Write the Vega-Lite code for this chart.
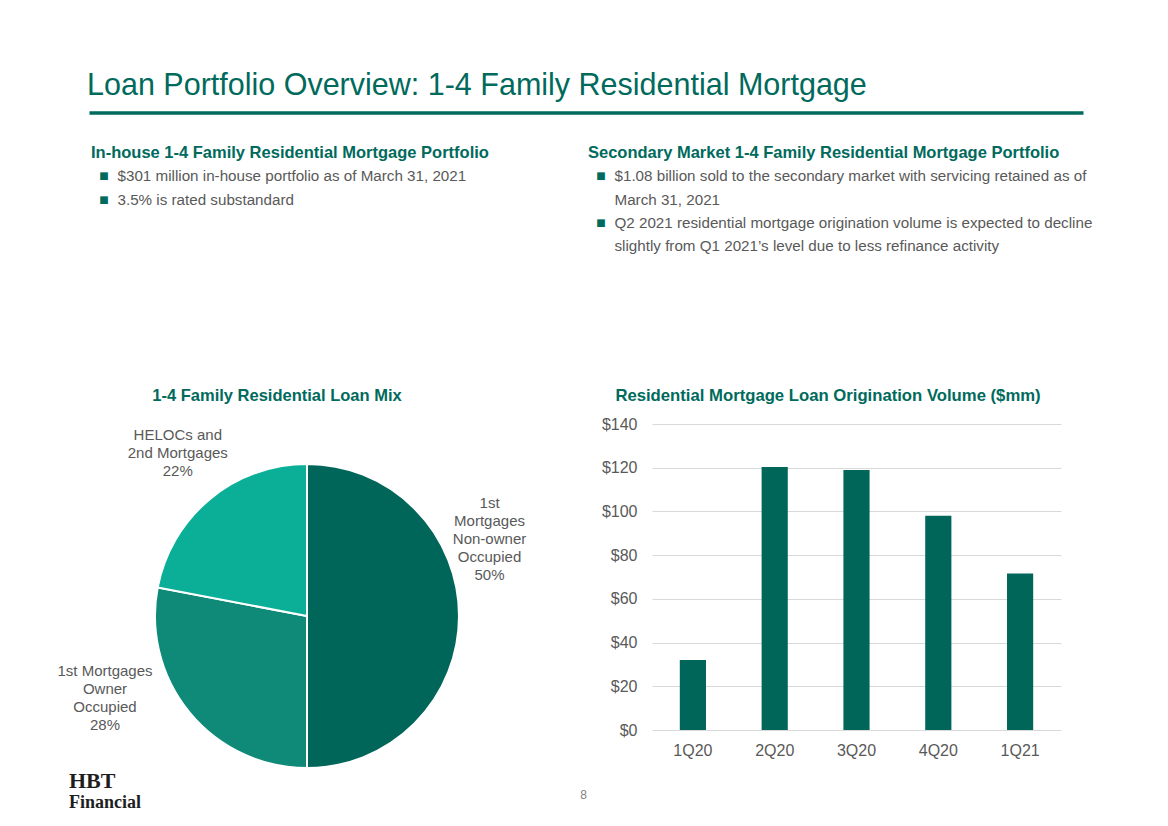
{
  "$schema": "https://vega.github.io/schema/vega-lite/v6.json",
  "background": "#ffffff",
  "padding": {"left": 0, "top": 71, "right": 0, "bottom": 0},
  "title": {
    "text": "Loan Portfolio Overview: 1-4 Family Residential Mortgage",
    "anchor": "start",
    "frame": "group",
    "dx": 87,
    "offset": -19,
    "baseline": "bottom",
    "fontSize": 30.5,
    "fontWeight": "normal",
    "color": "#006A5C",
    "font": "Liberation Sans"
  },
  "bounds": "flush",
  "spacing": 178,
  "vconcat": [
    {
      "width": 1168,
      "height": 93,
      "data": {
        "values": [
          {"col": "left", "line": 0, "kind": "heading", "first": false, "text": "In-house 1-4 Family Residential Mortgage Portfolio"},
          {"col": "left", "line": 1, "kind": "bullet", "first": true, "text": "$301 million in-house portfolio as of March 31, 2021"},
          {"col": "left", "line": 2, "kind": "bullet", "first": true, "text": "3.5% is rated substandard"},
          {"col": "right", "line": 0, "kind": "heading", "first": false, "text": "Secondary Market 1-4 Family Residential Mortgage Portfolio"},
          {"col": "right", "line": 1, "kind": "bullet", "first": true, "text": "$1.08 billion sold to the secondary market with servicing retained as of"},
          {"col": "right", "line": 2, "kind": "bullet", "first": false, "text": "March 31, 2021"},
          {"col": "right", "line": 3, "kind": "bullet", "first": true, "text": "Q2 2021 residential mortgage origination volume is expected to decline"},
          {"col": "right", "line": 4, "kind": "bullet", "first": false, "text": "slightly from Q1 2021\u2019s level due to less refinance activity"}
        ]
      },
      "encoding": {
        "x": {
          "field": "col",
          "type": "nominal",
          "bandPosition": 0,
          "scale": {"type": "band", "domain": ["left", "right"], "range": [89, 1083], "paddingInner": 0, "paddingOuter": 0},
          "axis": {
            "orient": "top",
            "offset": 40.5,
            "minExtent": 0,
            "maxExtent": 0,
            "domain": true,
            "domainColor": "#006A5C",
            "domainWidth": 3.5,
            "domainCap": "butt",
            "labels": false,
            "ticks": false,
            "grid": false,
            "title": null
          }
        },
        "y": {
          "field": "line",
          "type": "ordinal",
          "scale": {"type": "point", "padding": 0},
          "axis": null
        }
      },
      "layer": [
        {
          "transform": [{"filter": "datum.kind === 'heading'"}],
          "mark": {"type": "text", "align": "left", "baseline": "middle", "dx": 2, "fontSize": 16.5, "fontWeight": "bold", "color": "#006A5C", "font": "Liberation Sans"},
          "encoding": {"text": {"field": "text"}}
        },
        {
          "transform": [{"filter": "datum.first"}],
          "mark": {"type": "text", "text": "\u25a0", "align": "center", "baseline": "middle", "dx": 15, "fontSize": 10, "color": "#006A5C", "font": "DejaVu Sans"}
        },
        {
          "transform": [{"filter": "datum.kind === 'bullet'"}],
          "mark": {"type": "text", "align": "left", "baseline": "middle", "dx": 28.5, "fontSize": 15.2, "color": "#595959", "font": "Liberation Sans"},
          "encoding": {"text": {"field": "text"}}
        }
      ]
    },
    {
      "bounds": "flush",
      "spacing": 38,
      "title": {
        "text": "HBT",
        "subtitle": "Financial",
        "orient": "bottom",
        "anchor": "start",
        "frame": "group",
        "dx": 69,
        "offset": -37,
        "baseline": "top",
        "font": "Liberation Serif",
        "fontSize": 22,
        "fontWeight": "bold",
        "color": "#1E1E1E",
        "subtitleFont": "Liberation Serif",
        "subtitleFontSize": 18,
        "subtitleFontWeight": "bold",
        "subtitleColor": "#1E1E1E",
        "subtitlePadding": 1
      },
      "hconcat": [
        {
          "width": 614,
          "height": 384,
          "title": {
            "text": "1-4 Family Residential Loan Mix",
            "anchor": "middle",
            "dx": -30,
            "offset": 4,
            "baseline": "bottom",
            "fontSize": 16.5,
            "fontWeight": "bold",
            "color": "#006A5C",
            "font": "Liberation Sans"
          },
          "data": {
            "values": [
              {"segment": "1st Mortgages Non-owner Occupied", "share": 50, "order": 1, "label": "1st\nMortgages\nNon-owner\nOccupied\n50%"},
              {"segment": "1st Mortgages Owner Occupied", "share": 28, "order": 2, "label": "1st Mortgages\nOwner\nOccupied\n28%"},
              {"segment": "HELOCs and 2nd Mortgages", "share": 22, "order": 3, "label": "HELOCs and\n2nd Mortgages\n22%"}
            ]
          },
          "transform": [
            {"stack": "share", "groupby": [], "sort": [{"field": "order", "order": "ascending"}], "as": ["share_start", "share_end"]}
          ],
          "layer": [
            {
              "mark": {"type": "arc", "outerRadius": 152, "stroke": "#ffffff", "strokeWidth": 2},
              "encoding": {
                "theta": {"field": "share_start", "type": "quantitative", "scale": {"domain": [0, 100]}},
                "theta2": {"field": "share_end"},
                "color": {
                  "field": "segment",
                  "type": "nominal",
                  "scale": {
                    "domain": ["1st Mortgages Non-owner Occupied", "1st Mortgages Owner Occupied", "HELOCs and 2nd Mortgages"],
                    "range": ["#00665A", "#0F8A78", "#0BAF97"]
                  },
                  "legend": null
                }
              }
            },
            {
              "transform": [{"filter": "datum.order === 1"}],
              "mark": {"type": "text", "radius": 198, "thetaOffset": 1.173, "dy": -36, "align": "center", "baseline": "middle", "lineBreak": "\n", "lineHeight": 18, "fontSize": 15, "color": "#595959", "font": "Liberation Sans"},
              "encoding": {
                "theta": {"field": "share_start", "type": "quantitative", "stack": null},
                "text": {"field": "label"}
              }
            },
            {
              "transform": [{"filter": "datum.order === 2"}],
              "mark": {"type": "text", "radius": 218, "thetaOffset": 1.185, "dy": -27, "align": "center", "baseline": "middle", "lineBreak": "\n", "lineHeight": 18, "fontSize": 15, "color": "#595959", "font": "Liberation Sans"},
              "encoding": {
                "theta": {"field": "share_start", "type": "quantitative", "stack": null},
                "text": {"field": "label"}
              }
            },
            {
              "transform": [{"filter": "datum.order === 3"}],
              "mark": {"type": "text", "radius": 208, "thetaOffset": 0.712, "dy": -18, "align": "center", "baseline": "middle", "lineBreak": "\n", "lineHeight": 18, "fontSize": 15, "color": "#595959", "font": "Liberation Sans"},
              "encoding": {
                "theta": {"field": "share_start", "type": "quantitative", "stack": null},
                "text": {"field": "label"}
              }
            }
          ]
        },
        {
          "width": 409,
          "height": 306,
          "title": {
            "text": "Residential Mortgage Loan Origination Volume ($mm)",
            "anchor": "middle",
            "dx": -28.5,
            "offset": -6,
            "baseline": "bottom",
            "fontSize": 16.7,
            "fontWeight": "bold",
            "color": "#006A5C",
            "font": "Liberation Sans"
          },
          "data": {
            "values": [
              {"quarter": "1Q20", "volume": 32.0},
              {"quarter": "2Q20", "volume": 120.3},
              {"quarter": "3Q20", "volume": 119.0},
              {"quarter": "4Q20", "volume": 98.0},
              {"quarter": "1Q21", "volume": 71.6}
            ]
          },
          "mark": {"type": "bar", "color": "#00665A"},
          "encoding": {
            "x": {
              "field": "quarter",
              "type": "ordinal",
              "sort": null,
              "scale": {"paddingInner": 0.68, "paddingOuter": 0.34},
              "axis": {
                "title": "8",
                "titleX": -69,
                "titleY": 64,
                "titleAlign": "center",
                "titleBaseline": "middle",
                "titleAnchor": null,
                "titleFontSize": 12,
                "titleFontWeight": "normal",
                "titleColor": "#7F7F7F",
                "titleFont": "Liberation Sans",
                "labelAngle": 0,
                "labelFontSize": 16,
                "labelColor": "#595959",
                "labelFont": "Liberation Sans",
                "labelPadding": 12,
                "ticks": false,
                "domain": false,
                "grid": false
              }
            },
            "y": {
              "field": "volume",
              "type": "quantitative",
              "scale": {"domain": [0, 140], "nice": false},
              "axis": {
                "values": [0, 20, 40, 60, 80, 100, 120, 140],
                "format": "$.0f",
                "title": null,
                "labelFontSize": 16,
                "labelColor": "#595959",
                "labelFont": "Liberation Sans",
                "labelPadding": 15,
                "ticks": false,
                "domain": false,
                "grid": true,
                "gridColor": "#D9D9D9",
                "gridWidth": 1
              }
            }
          }
        }
      ]
    }
  ],
  "config": {
    "view": {"stroke": null},
    "font": "Liberation Sans",
    "title": {"font": "Liberation Sans"},
    "axis": {"labelFont": "Liberation Sans", "titleFont": "Liberation Sans"}
  }
}
